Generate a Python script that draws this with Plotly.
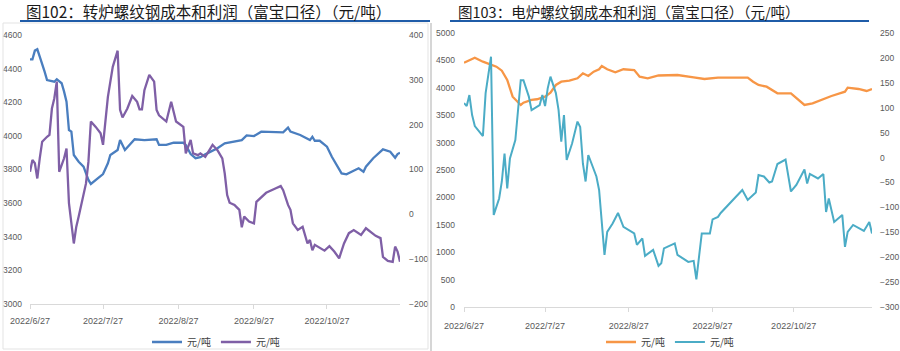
import pandas as pd
import plotly.graph_objects as go

BASE = pd.Timestamp("2022-06-27")

# ---- Figure 102: BOF rebar cost (left axis) and profit (right axis) ----
bof_cost_day = [0,1,2,3,4,5,6,7,9,10,11,13,14,15,16,17,18,20,22,23,24,25,27,29,30,32,33,36,37,39,
                41,43,47,52,53,56,59,63,64,66,68,70,72,75,77,80,83,87,89,92,95,104,106,107,111,115,116,117,119,122,
                124,126,128,130,133,135,137,138,141,143,145,148,150,151,152]
bof_cost = [4455,4455,4507,4515,4471,4432,4382,4332,4326,4322,4337,4313,4263,4203,4035,4025,3886,3846,3817,3777,
            3738,3714,3738,3757,3773,3837,3886,3916,3975,3916,3946,3980,3975,3980,3946,3946,3959,3959,3946,3892,
            3867,3873,3890,3912,3926,3956,3965,3975,4003,3999,4025,4021,4049,4025,4005,3975,3995,3971,3971,3936,
            3876,3827,3777,3771,3793,3807,3787,3817,3867,3896,3920,3906,3870,3892,3900]

bof_profit_day = [0,1,2,3,4,5,7,8,9,10,11,12,13,14,15,16,18,19,20,21,23,24,25,27,29,30,32,34,36,37,
                  38,40,42,44,45,46,47,49,51,52,53,56,58,60,63,64,66,67,69,70,72,75,77,79,80,81,82,84,86,87,
                  88,90,92,93,95,97,101,103,104,106,107,108,110,112,114,115,116,117,121,123,
                  125,127,129,131,133,136,138,140,142,144,145,147,149,150,151,152]
bof_profit = [95,121,114,80,125,162,173,177,236,259,296,95,110,125,147,25,-65,-28,-5,21,
              69,117,207,195,181,155,262,329,365,233,216,236,264,251,234,234,277,311,296,233,
              221,207,251,207,195,136,166,136,132,136,128,155,143,125,91,43,26,21,10,-29,
              -5,-16,-20,28,39,48,58,63,54,21,10,-20,-35,-28,-65,-57,-80,-68,-81,-71,
              -83,-98,-65,-42,-35,-46,-31,-39,-48,-53,-95,-104,-106,-72,-83,-106]

# ---- Figure 103: EAF rebar cost (left axis) and profit (right axis) ----
eaf_cost_day = [0,4,7,10,12,14,16,18,21,22,25,27,30,32,34,36,39,42,44,46,48,50,51,53,56,59,63,65,68,72,
                79,85,89,94,105,107,109,112,114,116,121,123,126,129,132,136,141,142,146,149,151]
eaf_cost = [4454,4545,4472,4412,4381,4308,4139,3835,3684,3726,3775,3788,3835,3908,4048,4108,4126,4170,4261,4212,
            4290,4334,4394,4334,4279,4334,4321,4199,4170,4221,4230,4188,4157,4181,4181,4108,4048,4017,3957,3897,
            3897,3806,3684,3715,3775,3848,3926,3999,3975,3939,3975]

eaf_profit_day = [0,1,2,3,4,7,8,10,11,13,14,15,16,17,19,21,22,24,25,28,29,30,31,32,34,35,36,37,38,40,
                  42,43,44,45,46,49,50,52,53,55,57,59,63,64,66,67,70,72,73,74,78,79,81,83,85,86,88,91,92,94,
                  95,98,103,105,108,109,111,113,114,116,119,121,123,126,127,128,131,133,134,135,
                  137,140,141,142,144,148,150,151]
eaf_profit = [109,103,125,85,63,43,129,202,-115,-82,-48,8,-62,-2,35,155,155,122,95,105,
              125,103,139,162,129,95,32,85,-5,28,72,61,-12,-48,5,-38,-65,-195,-149,-132,
              -111,-139,-152,-175,-162,-197,-185,-217,-212,-182,-172,-195,-202,-209,-207,-244,-152,-152,-124,-119,
              -111,-93,-65,-85,-70,-35,-38,-50,-48,-13,-4,-68,-55,-24,-52,-33,-42,-33,-109,-82,
              -129,-115,-179,-149,-135,-147,-129,-152]

tick_dates = ["2022-06-27", "2022-07-27", "2022-08-27", "2022-09-27", "2022-10-27"]
tick_text = ["2022/6/27", "2022/7/27", "2022/8/27", "2022/9/27", "2022/10/27"]
series_name = "元/吨"
title_102 = "图102：转炉螺纹钢成本和利润（富宝口径）（元/吨）"
title_103 = "图103：电炉螺纹钢成本和利润（富宝口径）（元/吨）"


def to_dates(days):
    return [BASE + pd.Timedelta(days=int(d)) for d in days]


BLUE, PURPLE, ORANGE, TEAL = "#4A7EBF", "#7F5FA6", "#F79646", "#4BACC6"
TICK_FONT = dict(family="Liberation Sans, Arial", size=9, color="#595959")
YTICK_FONT = dict(family="Liberation Sans Narrow, Liberation Sans, Arial", size=8.5, color="#595959")

fig = go.Figure()
fig.add_trace(go.Scatter(x=to_dates(bof_cost_day), y=bof_cost, name=series_name, mode="lines",
                         line=dict(color=BLUE, width=2.3), xaxis="x", yaxis="y", legend="legend"))
fig.add_trace(go.Scatter(x=to_dates(bof_profit_day), y=bof_profit, name=series_name, mode="lines",
                         line=dict(color=PURPLE, width=2.3), xaxis="x", yaxis="y2", legend="legend"))
fig.add_trace(go.Scatter(x=to_dates(eaf_cost_day), y=eaf_cost, name=series_name, mode="lines",
                         line=dict(color=ORANGE, width=2.3), xaxis="x2", yaxis="y3", legend="legend2"))
fig.add_trace(go.Scatter(x=to_dates(eaf_profit_day), y=eaf_profit, name=series_name, mode="lines",
                         line=dict(color=TEAL, width=2.0), xaxis="x2", yaxis="y4", legend="legend2"))

W, H = 900, 351


def xdom(a, b):
    return [a / W, b / W]


def ydom(top, bottom):
    return [(H - bottom) / H, (H - top) / H]


xcommon = dict(type="date", tickmode="array", tickvals=tick_dates, ticktext=tick_text,
               showgrid=False, zeroline=False, showline=True, linecolor="#D9D9D9", linewidth=1,
               ticks="outside", ticklen=4, tickcolor="#D9D9D9", tickfont=TICK_FONT, automargin=False)
ycommon = dict(showgrid=False, zeroline=False, showline=False, ticks="", tickfont=YTICK_FONT,
               automargin=False)

fig.update_layout(
    template="none",
    width=W, height=H, margin=dict(l=0, r=0, t=0, b=0, autoexpand=False),
    paper_bgcolor="white", plot_bgcolor="white", hovermode=False,
    xaxis=dict(domain=xdom(30, 400), anchor="y", ticklabelstandoff=4,
               range=[BASE, BASE + pd.Timedelta(days=152)], **xcommon),
    yaxis=dict(domain=ydom(35, 304), anchor="x", range=[3000, 4600], dtick=200,
               ticklabelstandoff=7, **ycommon),
    yaxis2=dict(domain=ydom(35, 304), anchor="x", overlaying="y", side="right",
                range=[-200, 400], dtick=100, ticklabelstandoff=8, **ycommon),
    xaxis2=dict(domain=xdom(464, 872), anchor="y3", ticklabelstandoff=6,
                range=[BASE, BASE + pd.Timedelta(days=151)], **xcommon),
    yaxis3=dict(domain=ydom(32.7, 307.3), anchor="x2", range=[0, 5000], dtick=500,
                ticklabelstandoff=8, **ycommon),
    yaxis4=dict(domain=ydom(32.7, 307.3), anchor="x2", overlaying="y3", side="right",
                range=[-300, 250], dtick=50, ticklabelstandoff=7, **ycommon),
    legend=dict(orientation="h", x=216 / W, y=(H - 342) / H, xanchor="center", yanchor="middle",
                font=dict(family="Noto Sans CJK SC", size=10, color="#404040"),
                itemwidth=30, bgcolor="rgba(0,0,0,0)", tracegroupgap=0),
    legend2=dict(orientation="h", x=670 / W, y=(H - 342) / H, xanchor="center", yanchor="middle",
                 font=dict(family="Noto Sans CJK SC", size=10, color="#404040"),
                 itemwidth=30, bgcolor="rgba(0,0,0,0)", tracegroupgap=0),
    showlegend=True,
)

# Titles and decorative frame
fig.add_annotation(text=title_102, xref="paper", yref="paper", x=24 / W, y=(H - 11) / H,
                   xanchor="left", yanchor="middle", showarrow=False,
                   font=dict(family="Noto Sans CJK SC", size=15.5, color="#1A1A1A"))
fig.add_annotation(text=title_103, xref="paper", yref="paper", x=456 / W, y=(H - 11) / H,
                   xanchor="left", yanchor="middle", showarrow=False,
                   font=dict(family="Noto Sans CJK SC", size=14.5, color="#1A1A1A"))

fig.add_shape(type="line", xref="paper", yref="paper", x0=20 / W, x1=430 / W,
              y0=(H - 21) / H, y1=(H - 21) / H, line=dict(color="#1F5CA8", width=2))
fig.add_shape(type="line", xref="paper", yref="paper", x0=450 / W, x1=869 / W,
              y0=(H - 21) / H, y1=(H - 21) / H, line=dict(color="#1F5CA8", width=2))
fig.add_shape(type="rect", xref="paper", yref="paper", x0=3 / W, x1=428 / W,
              y0=2 / H, y1=(H - 23) / H, line=dict(color="#E3E3E3", width=1))
fig.add_shape(type="line", xref="paper", yref="paper", x0=431 / W, x1=431 / W,
              y0=0, y1=(H - 23) / H, line=dict(color="#D6D6D6", width=2))

fig.write_html("out.html")
